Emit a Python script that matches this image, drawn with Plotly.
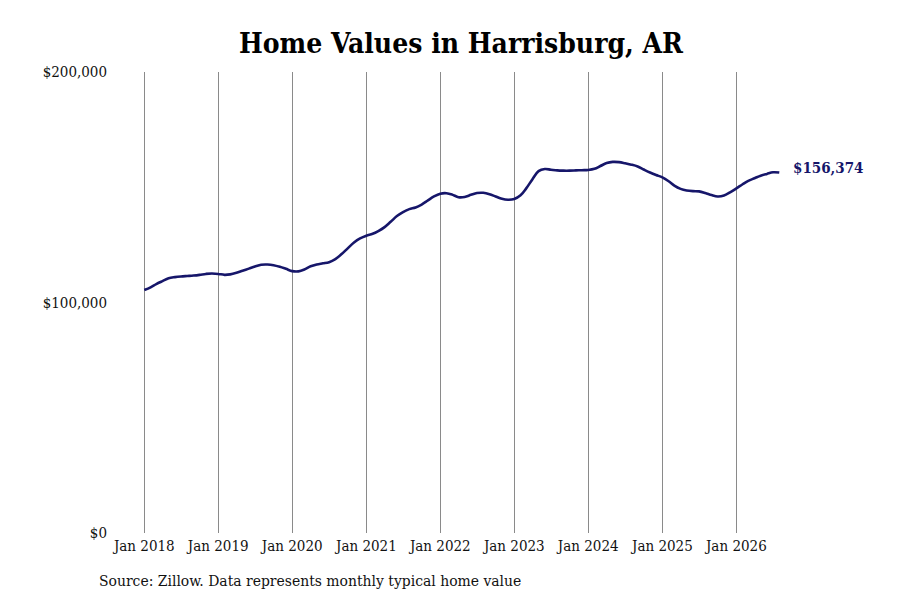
import pandas as pd
import plotly.graph_objects as go

# monthly typical home value, Jan 2018 - Aug 2026
months = pd.date_range("2018-01-01", periods=104, freq="MS")
values = [
    105400, 106600, 108000, 109300, 110500, 111000, 111300, 111500, 111700, 112000, 112400, 112600,
    112400, 112000, 112200, 112900, 113800, 114700, 115600, 116400, 116500, 116200, 115500, 114600,
    113600, 113500, 114300, 115700, 116500, 117000, 117500, 118800, 121000, 123500, 126000, 127800,
    129000, 129800, 131000, 132700, 135000, 137500, 139200, 140500, 141200, 142500, 144300, 146000,
    147200, 147400, 146800, 145700, 145800, 146700, 147500, 147600, 147000, 146000, 145000, 144600,
    144900, 146500, 149500, 153500, 157000, 157900, 157600, 157300, 157200, 157200, 157300, 157400,
    157500, 158000, 159200, 160500, 161000, 160900, 160400, 159800, 159000, 157700, 156400, 155300,
    154300, 152600, 150700, 149300, 148600, 148300, 148200, 147500, 146600, 146000, 146400, 147800,
    149500, 151300, 152800, 153900, 155000, 155800, 156500, 156374,
]
y_ticks = [0, 100000, 200000]
y_labels = ["$0", "$100,000", "$200,000"]

font = "DejaVu Serif Condensed, DejaVu Serif, serif"
navy = "#16166a"

fig = go.Figure()
fig.add_trace(go.Scatter(x=months, y=values, mode="lines",
                         line=dict(color=navy, width=2.6, shape="spline")))

fig.add_annotation(x=months[-1], y=values[-1], text=f"<b>${values[-1]:,}</b>",
                   showarrow=False, xanchor="left", xshift=12, yshift=5,
                   font=dict(family=font, size=15, color=navy))
fig.add_annotation(x=-41 / 666, y=-48 / 461, xref="paper", yref="paper",
                   text="Source: Zillow. Data represents monthly typical home value",
                   showarrow=False, xanchor="left", yanchor="middle",
                   font=dict(family=font, size=15.5, color="#111"))

fig.update_layout(
    width=900, height=600,
    margin=dict(l=130, r=104, t=64, b=75),
    paper_bgcolor="white", plot_bgcolor="white",
    showlegend=False,
    font=dict(family=font, size=15, color="#111"),
    title=dict(text="<b>Home Values in Harrisburg, AR</b>", x=453 / 900, xanchor="center",
               y=1 - 35 / 600, yanchor="middle",
               font=dict(family=font, size=28, color="#000")),
)
fig.update_xaxes(range=["2017-12-01", "2026-12-01"], tick0="2018-01-01", dtick="M12",
                 tickformat="%b %Y", showgrid=True, gridcolor="#8a8a8a", gridwidth=1,
                 zeroline=False, showline=False, ticks="", ticklabelstandoff=2)
fig.update_yaxes(range=[0, 200000], tickvals=y_ticks, ticktext=y_labels,
                 showgrid=False, zeroline=False, showline=False, ticks="",
                 ticklabelstandoff=30)

fig.write_html("out.html")
